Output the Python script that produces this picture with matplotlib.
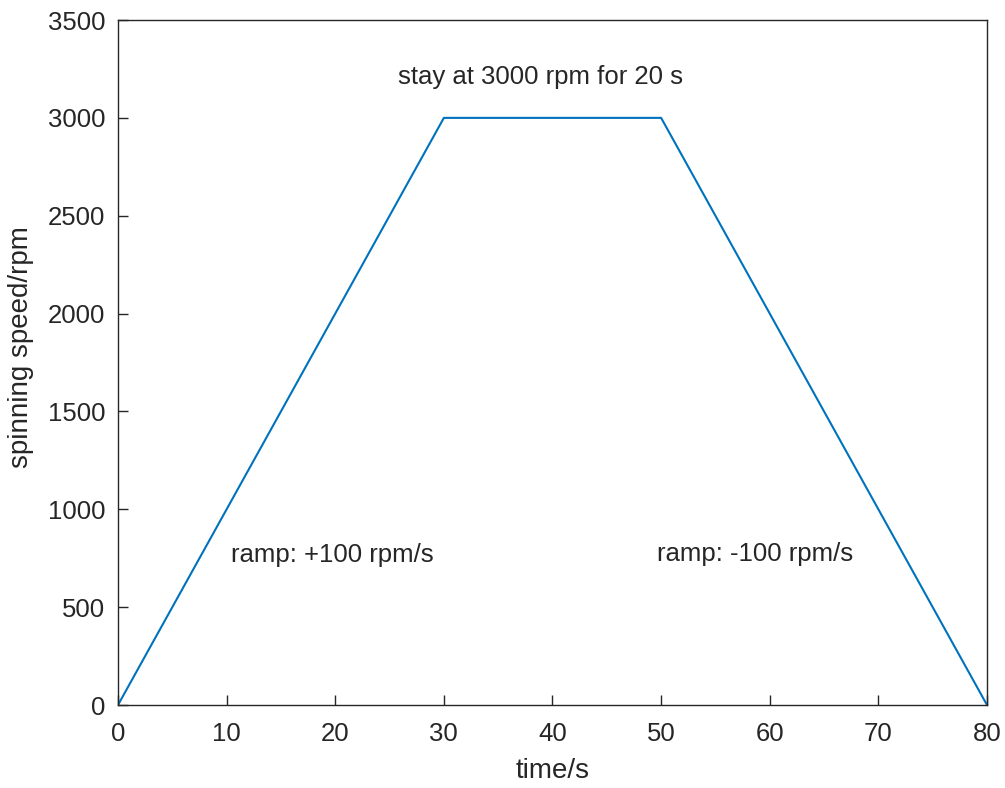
import matplotlib
matplotlib.use("Agg")
import matplotlib.pyplot as plt

# spin coating profile
time_s = [0, 30, 50, 80]
speed_rpm = [0, 3000, 3000, 0]

xticks = [0, 10, 20, 30, 40, 50, 60, 70, 80]
yticks = [0, 500, 1000, 1500, 2000, 2500, 3000, 3500]

notes = ["stay at 3000 rpm for 20 s", "ramp: +100 rpm/s", "ramp: -100 rpm/s"]
note_x = [38.9, 10.4, 49.6]
note_y = [3210, 765, 770]
note_ha = ["center", "left", "left"]

plt.rcParams["font.family"] = ["Liberation Sans", "DejaVu Sans"]
gray = "#262626"

fig = plt.figure(figsize=(10.05, 7.88), dpi=100)
ax = fig.add_axes([0.1174, 0.1053, 0.8647, 0.8693])

ax.plot(time_s, speed_rpm, color="#0072BD", linewidth=1.5)

for s, x, y, ha in zip(notes, note_x, note_y, note_ha):
    ax.text(x, y, s, ha=ha, va="center", fontsize=18.5, color=gray)

ax.set_xlim(0, 80)
ax.set_ylim(0, 3500)
ax.set_xticks(xticks)
ax.set_yticks(yticks)
ax.tick_params(direction="in", length=7, width=1, colors=gray, labelsize=18.5,
               top=False, right=False)
ax.tick_params(axis="x", pad=12)
ax.tick_params(axis="y", pad=9)
for sp in ax.spines.values():
    sp.set_color(gray)
    sp.set_linewidth(1)

ax.set_xlabel("time/s", fontsize=20, color=gray, labelpad=9)
ax.set_ylabel("spinning speed/rpm", fontsize=20, color=gray)
ax.yaxis.set_label_coords(-0.097, 0.523)

fig.savefig("out.png", dpi=100)
